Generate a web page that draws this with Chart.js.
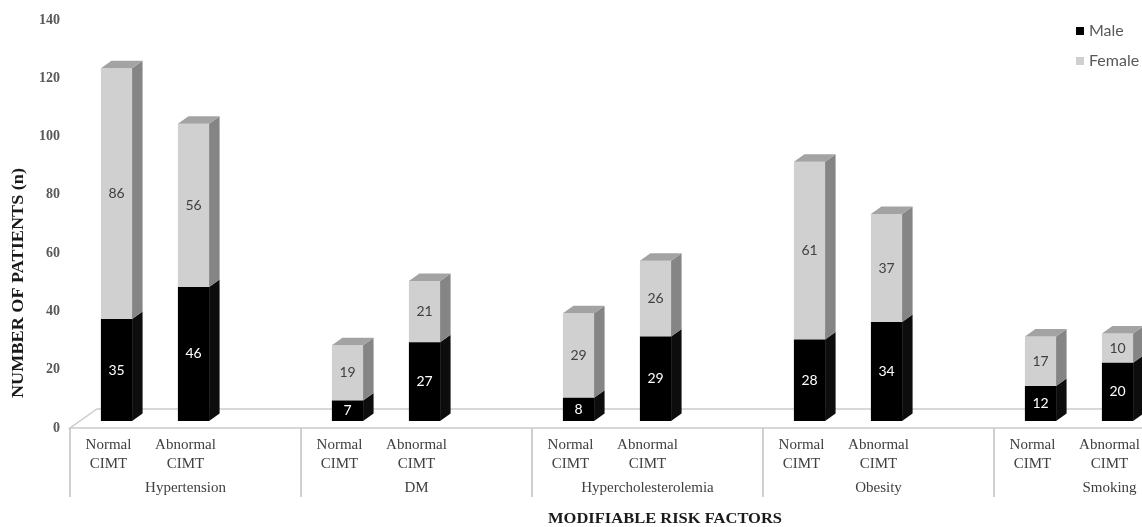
<!DOCTYPE html>
<html>
<head>
<meta charset="utf-8">
<script src="https://cdn.jsdelivr.net/npm/chart.js@4.4.1/dist/chart.umd.min.js"></script>
<style>
  html, body { margin: 0; padding: 0; background: #fff; overflow: hidden; }
  #wrap { width: 1233px; height: 527px; }
</style>
</head>
<body>
<div id="wrap"><canvas id="riskChart" width="1233" height="527"></canvas></div>
<script>
// Risk factor groups and the two CIMT sub-categories
const groups = ["Hypertension", "DM", "Hypercholesterolemia", "Obesity", "Smoking"];
const subLabels = [["Normal", "CIMT"], ["Abnormal", "CIMT"]];

// Patient counts per group (Normal CIMT / Abnormal CIMT)
const maleNormal = [35, 7, 8, 28, 12];
const maleAbnormal = [46, 27, 29, 34, 20];
const femaleNormal = [86, 19, 29, 61, 17];
const femaleAbnormal = [56, 21, 26, 37, 10];

const yTicks = [0, 20, 40, 60, 80, 100, 120, 140];

// Each group takes 3 slots: Normal, Abnormal, empty gap
const labels = [];
const maleData = [];
const femaleData = [];
groups.forEach((g, i) => {
  labels.push(subLabels[0], subLabels[1], "");
  maleData.push(maleNormal[i], maleAbnormal[i], null);
  femaleData.push(femaleNormal[i], femaleAbnormal[i], null);
});

const SERIF = "'Liberation Serif', 'Times New Roman', serif";
const SANS = "Lato, 'Open Sans', sans-serif";
const DX = 10.5, DY = -7.5; // 3D depth of the bars
const SHIFT = -8;           // labels sit a bit left of the bar fronts

// draw text squeezed/stretched to a given width
function fitText(ctx, text, x, y, width) {
  const w = ctx.measureText(text).width;
  ctx.save();
  ctx.translate(x, y);
  ctx.scale(width / w, 1);
  ctx.fillText(text, 0, 0);
  ctx.restore();
}

const threeD = {
  id: "threeD",
  beforeDatasetsDraw(chart) {
    const ctx = chart.ctx;
    const W = chart.width;
    // floor of the 3D plot
    ctx.save();
    ctx.strokeStyle = "#cccccc";
    ctx.lineWidth = 1.5;
    ctx.beginPath();
    ctx.moveTo(W, 409);
    ctx.lineTo(97, 409);
    ctx.lineTo(70, 428);
    ctx.lineTo(W, 428);
    ctx.stroke();
    ctx.restore();
  },
  afterDatasetsDraw(chart) {
    const ctx = chart.ctx;
    const male = chart.getDatasetMeta(0).data;
    const female = chart.getDatasetMeta(1).data;
    ctx.save();
    male.forEach((bar, i) => {
      if (maleData[i] == null) return;
      const fb = female[i];
      const l = bar.x - bar.width / 2, r = bar.x + bar.width / 2;
      // male side
      ctx.fillStyle = "#0d0d0d";
      ctx.beginPath();
      ctx.moveTo(r, bar.base);
      ctx.lineTo(r + DX, bar.base + DY);
      ctx.lineTo(r + DX, bar.y + DY);
      ctx.lineTo(r, bar.y);
      ctx.closePath();
      ctx.fill();
      // female side
      ctx.fillStyle = "#858585";
      ctx.beginPath();
      ctx.moveTo(r, fb.base);
      ctx.lineTo(r + DX, fb.base + DY);
      ctx.lineTo(r + DX, fb.y + DY);
      ctx.lineTo(r, fb.y);
      ctx.closePath();
      ctx.fill();
      // top
      ctx.fillStyle = "#a3a3a3";
      ctx.beginPath();
      ctx.moveTo(l, fb.y);
      ctx.lineTo(l + DX, fb.y + DY);
      ctx.lineTo(r + DX, fb.y + DY);
      ctx.lineTo(r, fb.y);
      ctx.closePath();
      ctx.fill();
      // value labels
      ctx.font = "14px " + SANS;
      ctx.textAlign = "center";
      ctx.textBaseline = "middle";
      ctx.fillStyle = "#ffffff";
      ctx.fillText(String(maleData[i]), bar.x, (bar.y + bar.base) / 2);
      ctx.fillStyle = "#404040";
      ctx.fillText(String(femaleData[i]), fb.x, (fb.y + fb.base) / 2);
    });
    ctx.restore();
  },
  afterDraw(chart) {
    const ctx = chart.ctx;
    const xs = chart.scales.x;
    const slot = xs.getPixelForValue(1) - xs.getPixelForValue(0);
    ctx.save();
    // group separators and group names
    ctx.strokeStyle = "#c0c0c0";
    ctx.lineWidth = 1.5;
    for (let g = 0; g <= groups.length; g++) {
      const x = xs.getPixelForValue(g * 3) - slot / 2 + SHIFT;
      ctx.beginPath();
      ctx.moveTo(x, 428);
      ctx.lineTo(x, 497);
      ctx.stroke();
    }
    ctx.fillStyle = "#404040";
    ctx.font = "15px " + SERIF;
    ctx.textAlign = "center";
    ctx.textBaseline = "middle";
    groups.forEach((g, i) => {
      const x = xs.getPixelForValue(i * 3 + 1) + SHIFT;
      ctx.fillText(g, x, 488);
    });
    // axis titles
    ctx.fillStyle = "#1a1a1a";
    ctx.font = "bold 15px " + SERIF;
    fitText(ctx, "MODIFIABLE RISK FACTORS", 665, 519, 234);
    ctx.save();
    ctx.translate(19, 283);
    ctx.rotate(-Math.PI / 2);
    ctx.font = "bold 16px " + SERIF;
    fitText(ctx, "NUMBER OF PATIENTS (n)", 0, 0, 230);
    ctx.restore();
    // legend
    ctx.textAlign = "left";
    ctx.font = "16px " + SANS;
    const items = [["Male", "#000000", 31], ["Female", "#d0d0d0", 61]];
    items.forEach(([t, c, y]) => {
      ctx.fillStyle = c;
      ctx.fillRect(1076, y - 4, 8, 8);
      ctx.fillStyle = "#595959";
      ctx.fillText(t, 1089, y);
    });
    ctx.restore();
  }
};

new Chart(document.getElementById("riskChart"), {
  type: "bar",
  data: {
    labels: labels,
    datasets: [
      {
        label: "Male",
        data: maleData,
        backgroundColor: "#000000",
        categoryPercentage: 1,
        barPercentage: 0.405,
      },
      {
        label: "Female",
        data: femaleData,
        backgroundColor: "#d0d0d0",
        categoryPercentage: 1,
        barPercentage: 0.405,
      },
    ],
  },
  options: {
    responsive: false,
    animation: false,
    layout: { padding: { top: 13, right: 0, bottom: 0, left: 0 } },
    plugins: {
      legend: { display: false },
      tooltip: { enabled: false },
    },
    scales: {
      x: {
        stacked: true,
        grid: { display: false, drawTicks: false },
        border: { display: false },
        afterFit: (s) => { s.height = 106; s.paddingLeft = 0; s.paddingRight = 0; },
        ticks: {
          autoSkip: false,
          maxRotation: 0,
          padding: 15,
          labelOffset: SHIFT,
          color: "#404040",
          font: { family: SERIF, size: 15, lineHeight: 1.25 },
        },
      },
      y: {
        stacked: true,
        min: 0,
        max: 140,
        afterFit: (s) => { s.width = 78; s.paddingTop = 0; s.paddingBottom = 0; },
        afterBuildTicks: (s) => { s.ticks = yTicks.map((v) => ({ value: v })); },
        grid: { display: false, drawTicks: false },
        border: { display: false },
        ticks: {
          padding: 18,
          labelOffset: 7,
          color: "#595959",
          font: { family: SERIF, size: 14, weight: "bold" },
        },
      },
    },
  },
  plugins: [threeD],
});
</script>
</body>
</html>
